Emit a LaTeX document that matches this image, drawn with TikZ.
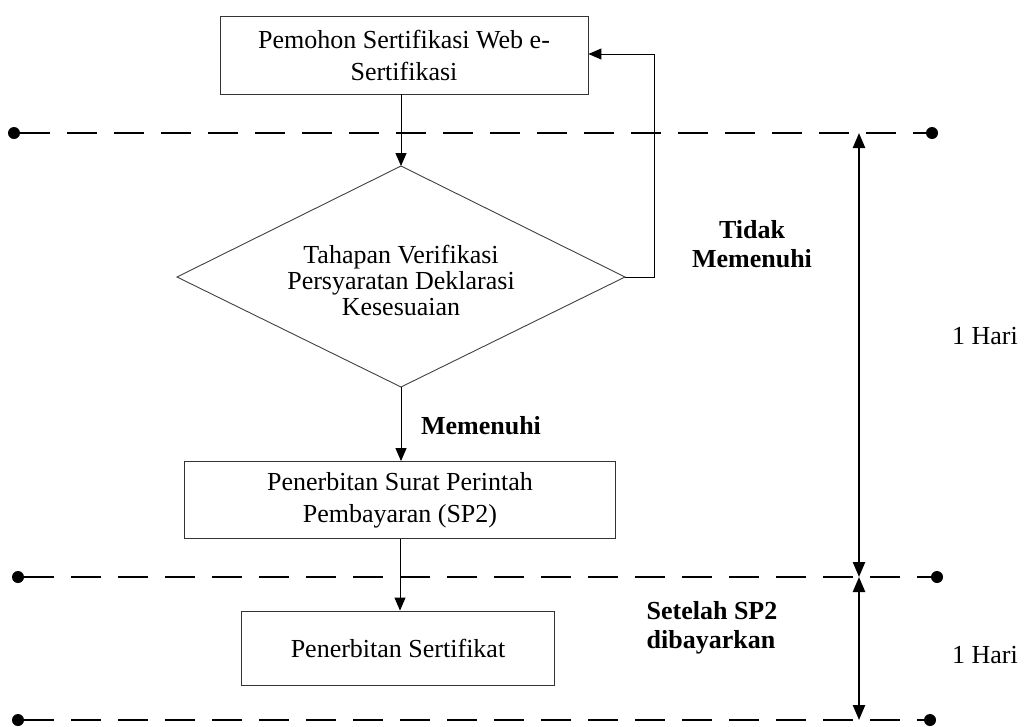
\documentclass[tikz,border=0pt]{standalone}
\usepackage{fontspec}
\setmainfont{Liberation Serif}
\usetikzlibrary{arrows.meta}
\tikzset{
  procbox/.style={draw=black!80, line width=0.9pt, rectangle, inner sep=0pt, align=center, font=\fontsize{26}{32}\selectfont},
  decline/.style={draw=black!75, line width=0.9pt},
  dectext/.style={inner sep=0pt, align=center, font=\fontsize{26}{26}\selectfont},
  flow/.style={line width=1pt, -{Triangle[length=13pt,width=11pt]}},
  sepline/.style={line width=1.8pt, dash pattern=on 30pt off 17pt},
  enddot/.style={circle, fill=black, inner sep=0pt, minimum size=12pt},
  span/.style={line width=2.4pt, {Triangle[length=15pt,width=12pt]}-{Triangle[length=15pt,width=12pt]}},
  boldlbl/.style={font=\fontsize{26}{29}\selectfont\bfseries, align=center},
  plainlbl/.style={font=\fontsize{26}{29}\selectfont}
}
\begin{document}
\begin{tikzpicture}[x=1pt,y=-1pt]
\useasboundingbox (0,0) rectangle (1027,726);
% process nodes
\node[procbox, minimum width=368pt, minimum height=78pt] (apply) at (404,55) {Pemohon Sertifikasi Web e-\\Sertifikasi};
% decision diamond
\coordinate (vN) at (401,166);
\coordinate (vE) at (625,277);
\coordinate (vS) at (401,387);
\coordinate (vW) at (177,277);
\draw[decline] (vN) -- (vE) -- (vS) -- (vW) -- cycle;
\node[dectext] (verify) at (401,280) {Tahapan Verifikasi\\Persyaratan Deklarasi\\Kesesuaian};
\node[procbox, minimum width=431pt, minimum height=77pt] (sp2) at (400,500) {Penerbitan Surat Perintah\\Pembayaran (SP2)};
\node[procbox, minimum width=313pt, minimum height=74pt] (cert) at (398,648) {Penerbitan Sertifikat};
% separator lines
\node[enddot] (l1a) at (14,133) {};
\node[enddot] (l1b) at (932,133) {};
\node[enddot] (l2a) at (18,577) {};
\node[enddot] (l2b) at (937,577) {};
\node[enddot] (l3a) at (18,720) {};
\node[enddot] (l3b) at (930,720) {};
\draw[sepline] (l1a) -- (l1b);
\draw[sepline] (l2a) -- (l2b);
\draw[sepline] (l3a) -- (l3b);
% flow
\draw[flow] (apply.south -| vN) -- (vN);
\draw[flow] (vS) -- (sp2.north -| vS);
\draw[flow] (sp2.south) -- (cert.north -| sp2.south);
\coordinate (fbA) at (654,277);
\coordinate (fbB) at (654,54);
\draw[flow] (vE) -- (fbA) -- (fbB) -- (apply.east |- fbB);
% time spans
\coordinate (t1) at (859,133);
\coordinate (t2) at (859,577);
\coordinate (t3) at (859,720);
\draw[span] (t1) -- (t2);
\draw[span] (t2) -- (t3);
% labels
\node[boldlbl] (tidak) at (752,244) {Tidak\\Memenuhi};
\node[boldlbl] (memenuhi) at (481,426) {Memenuhi};
\node[boldlbl, align=left] (setelah) at (712,628) {Setelah SP2\\dibayarkan};
\node[plainlbl] (hari1) at (985,336) {1 Hari};
\node[plainlbl] (hari2) at (985,655) {1 Hari};
\end{tikzpicture}
\end{document}
